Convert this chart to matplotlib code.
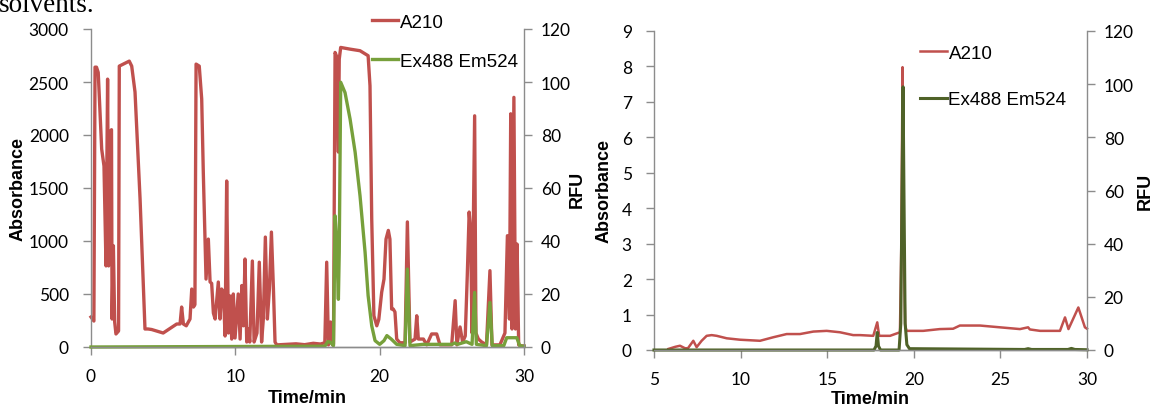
import matplotlib
matplotlib.use('Agg')
import matplotlib.pyplot as plt

# ---- left run: A210 (absorbance) ----
t_a_left = [0.0, 0.2, 0.28, 0.38, 0.5, 0.74, 0.9, 1.04, 1.15, 1.22, 1.32, 1.42, 1.46, 1.55,
            1.64, 1.73, 1.91, 1.96, 2.65, 2.82, 3.05, 3.4, 3.74, 3.95, 4.2, 5.0, 5.94, 6.17,
            6.28, 6.4, 6.6, 6.86, 6.98, 7.1, 7.2, 7.28, 7.5, 7.67, 7.78, 7.97, 8.13, 8.25,
            8.36, 8.48, 8.6, 8.82, 8.94, 9.05, 9.17, 9.29, 9.4, 9.52, 9.63, 9.75, 9.86, 9.98,
            10.2, 10.33, 10.45, 10.56, 10.67, 10.79, 10.9, 11.0, 11.18, 11.3, 11.5, 11.66,
            11.82, 11.94, 12.08, 12.22, 12.36, 12.5, 12.64, 12.75, 12.87, 13.5, 14.2, 14.8,
            15.4, 15.9, 16.2, 16.33, 16.45, 16.6, 16.74, 16.8, 16.91, 17.0, 17.14, 17.2, 17.3,
            17.95, 18.64, 19.2, 19.33, 19.45, 19.6, 19.8, 19.94, 20.14, 20.3, 20.44, 20.6,
            20.71, 20.83, 20.94, 21.06, 21.18, 21.4, 21.76, 21.92, 22.1, 22.45, 22.57, 22.68,
            23.03, 23.26, 23.6, 23.95, 24.18, 24.99, 25.23, 25.35, 25.57, 25.75, 25.93, 26.07,
            26.2, 26.3, 26.4, 26.58, 26.67, 26.84, 27.07, 27.4, 27.64, 27.78, 28.33, 28.68,
            28.85, 28.99, 29.08, 29.17, 29.3, 29.41, 29.52, 29.63, 29.84, 30.0]
a_left = [283, 245, 2640, 2640, 2590, 1867, 1707, 765, 2527, 765, 2027, 2050, 264, 955,
          236, 123, 151, 2650, 2697, 2650, 2405, 1396, 170, 170, 165, 132, 217, 217,
          377, 217, 200, 264, 547, 377, 400, 2669, 2650, 2339, 1650, 641, 1018, 614,
          600, 320, 264, 613, 264, 547, 520, 104, 1566, 132, 481, 75, 500, 85,
          500, 75, 580, 200, 830, 47, 170, 47, 811, 47, 132, 800,
          47, 264, 1037, 264, 547, 1084, 547, 47, 20, 25, 30, 22,
          35, 28, 40, 800, 20, 236, 20, 28, 2779, 2748, 1839, 2716, 2826,
          2810, 2795, 2748, 2464, 1207, 295, 200, 260, 517, 640, 1018, 1100,
          1018, 358, 358, 330, 75, 40, 40, 1180, 47, 75, 295, 75,
          75, 20, 123, 123, 20, 20, 437, 20, 189, 47, 104, 673,
          1273, 1100, 132, 2181, 132, 75, 47, 20, 720, 20, 20, 132,
          1050, 264, 2200, 170, 2355, 170, 971, 20, 10, 10]

# ---- left run: Ex488 Em524 (RFU) ----
t_f_left = [0.0, 16.2, 16.4, 16.56, 16.8, 16.91, 17.0, 17.14, 17.2, 17.3, 17.6, 17.95, 18.3,
            18.64, 18.99, 19.2, 19.45, 19.68, 20.0, 20.3, 20.5, 20.8, 21.18, 21.76, 21.92,
            22.1, 23.0, 25.0, 25.2, 25.4, 26.0, 26.4, 26.58, 26.7, 27.4, 27.64, 27.8, 28.6,
            28.8, 29.5, 29.7, 30.0]
f_left = [0, 0.3, 2, 1.9, 0.5, 49.5, 42, 18, 36, 99.9, 96, 86, 73.5,
          57, 35.7, 19.4, 8, 2.4, 1, 2.4, 4.3, 3, 1, 0.5, 29.4,
          0.5, 1, 1, 1.5, 1, 2, 1, 20.6, 1, 0.5, 16.8, 0.5, 0.5,
          3.5, 3.5, 0.5, 0.3]

# ---- right run: A210 (absorbance) ----
t_a_right = [5.83, 6.23, 6.5, 6.79, 6.96, 7.27, 7.46, 7.75, 8.04, 8.33, 8.62, 9.2, 9.97,
             11.12, 11.89, 12.66, 13.43, 14.2, 14.97, 15.74, 16.5, 16.9, 17.66, 17.89, 18.0,
             18.63, 19.2, 19.28, 19.35, 19.42, 19.5, 19.58, 20.54, 21.5, 22.27, 22.66, 23.82,
             24.97, 26.13, 26.6, 26.7, 27.29, 28.44, 28.73, 28.93, 29.5, 29.88, 30.0]
a_right = [0.03, 0.09, 0.12, 0.05, 0.05, 0.26, 0.08, 0.26, 0.4, 0.42, 0.4, 0.33, 0.29,
           0.26, 0.36, 0.45, 0.45, 0.52, 0.54, 0.5, 0.42, 0.42, 0.4, 0.78, 0.4,
           0.4, 0.5, 3.0, 7.98, 3.0, 0.7, 0.54, 0.54, 0.59, 0.6, 0.69, 0.69,
           0.64, 0.59, 0.64, 0.58, 0.54, 0.54, 0.92, 0.59, 1.2, 0.64, 0.6]

# ---- right run: Ex488 Em524 (RFU) ----
t_f_right = [5.0, 17.7, 17.82, 17.89, 17.96, 18.08, 19.15, 19.25, 19.32, 19.38, 19.43, 19.5,
             19.6, 19.75, 26.4, 26.6, 26.8, 28.9, 29.1, 29.3, 30.0]
f_right = [0, 0, 1.5, 6.6, 1.5, 0, 0, 10, 60, 99, 60, 10,
           2, 0.5, 0.2, 0.5, 0.2, 0.2, 0.6, 0.2, 0.1]

RED = '#C0504D'
GREEN_L = '#77A03B'
GREEN_R = '#4F6228'
GREY = '#8C8C8C'
TICKFONT = 'Lato'
LABFONT = 'Liberation Sans'


def style_axes(ax, ax2, xlim, xticks, ylim, yticks, ylim2, yticks2, xlabelpad):
    ax.set_xlim(*xlim)
    ax.set_xticks(xticks)
    ax.set_ylim(*ylim)
    ax.set_yticks(yticks)
    ax2.set_ylim(*ylim2)
    ax2.set_yticks(yticks2)
    for a in (ax, ax2):
        a.spines['top'].set_visible(False)
        for s in a.spines.values():
            s.set_color(GREY)
            s.set_linewidth(1.0)
        a.tick_params(colors=GREY, labelcolor='black', length=6, width=1.0,
                      labelsize=12.5, pad=6)
        for lab in a.get_xticklabels() + a.get_yticklabels():
            lab.set_fontfamily(TICKFONT)
    ax.spines['right'].set_visible(False)
    ax2.spines['left'].set_visible(False)
    ax.tick_params(axis='y', pad=10)
    ax.tick_params(axis='x', pad=9)
    ax.set_xlabel('Time/min', fontfamily=LABFONT, fontweight='bold', fontsize=13,
                  labelpad=xlabelpad)
    ax.set_ylabel('Absorbance', fontfamily=LABFONT, fontweight='bold', fontsize=13)
    ax2.set_ylabel('RFU', fontfamily=LABFONT, fontweight='bold', fontsize=13)


fig = plt.figure(figsize=(11.55, 4.1), dpi=100)

# left panel
axL = fig.add_axes([91 / 1155, 1 - 348 / 410, 433 / 1155, 318 / 410])
axL2 = axL.twinx()
l1, = axL.plot(t_a_left, a_left, color=RED, lw=2.4, clip_on=False, solid_joinstyle='round')
l2, = axL2.plot(t_f_left, f_left, color=GREEN_L, lw=2.4, clip_on=False, solid_joinstyle='round')
style_axes(axL, axL2, (0, 30), [0, 10, 20, 30], (0, 3000), range(0, 3001, 500),
           (0, 120), range(0, 121, 20), 4)
axL.yaxis.set_label_coords(-0.150, 0.5)
axL2.yaxis.set_label_coords(1.104, 0.5)
fig.legend([l1, l2], ['A210', 'Ex488 Em524'], loc='upper left',
           bbox_to_anchor=(371.7 / 1155, 1 - 14.5 / 410), frameon=False, borderpad=0,
           borderaxespad=0, handlelength=1.42, handletextpad=0.1, labelspacing=1.17,
           prop={'family': LABFONT, 'size': 13.5})

# right panel
axR = fig.add_axes([654 / 1155, 1 - 351 / 410, 433 / 1155, 319 / 410])
axR2 = axR.twinx()
r1, = axR.plot(t_a_right, a_right, color=RED, lw=1.8, clip_on=False, solid_joinstyle='round')
r2, = axR2.plot(t_f_right, f_right, color=GREEN_R, lw=2.2, clip_on=False, solid_joinstyle='round')
style_axes(axR, axR2, (5, 30), [5, 10, 15, 20, 25, 30], (0, 9), range(0, 10),
           (0, 120), range(0, 121, 20), 2)
axR.yaxis.set_label_coords(-0.095, 0.5)
axR2.yaxis.set_label_coords(1.115, 0.5)
fig.legend([r1, r2], ['A210', 'Ex488 Em524'], loc='upper left',
           bbox_to_anchor=(920 / 1155, 1 - 45.5 / 410), frameon=False, borderpad=0,
           borderaxespad=0, handlelength=1.42, handletextpad=0.1, labelspacing=1.58,
           prop={'family': LABFONT, 'size': 13.5})

# cut-off caption from the page above the figure
fig.text(-0.001, 1 - 11.7 / 410, 'solvents.', fontfamily='Liberation Serif', fontsize=19.5,
         va='baseline', ha='left')

fig.savefig('out.png', dpi=100)
